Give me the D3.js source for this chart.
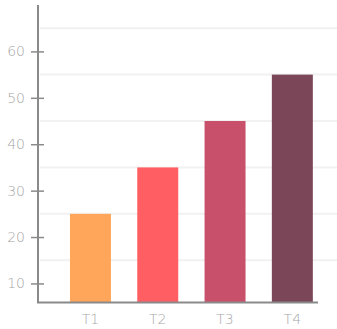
<!DOCTYPE html>
<html><head><meta charset="utf-8">
<script src="https://cdn.jsdelivr.net/npm/d3@7"></script>
<style>body{margin:0;background:#fff}svg{display:block}text{font-family:"DejaVu Sans",sans-serif;font-weight:200}</style>
</head><body><svg id="c" width="337" height="329"></svg>
<script>
const categories = ["T1","T2","T3","T4"];
const values = [25,35,45,55];
const colors = ["#FFA65A","#FF5F62","#C9506A","#7A4658"];
const tickValues = [10,20,30,40,50,60];
const gridValues = [15,25,35,45,55,65];

const svg = d3.select("#c");
const y = d3.scaleLinear().domain([6,70]).range([302,5]);
const x = d3.scaleBand().domain(categories).range([38,344.8]).paddingInner(0.391).paddingOuter(0.475);

svg.append("g").selectAll("line").data(gridValues).join("line")
  .attr("x1",40).attr("x2",337).attr("y1",d=>y(d)).attr("y2",d=>y(d))
  .attr("stroke","#f1f1f1").attr("stroke-width",2);

svg.append("g").selectAll("rect").data(values).join("rect")
  .attr("x",(d,i)=>x(categories[i])).attr("width",x.bandwidth())
  .attr("y",d=>y(d)).attr("height",d=>y(6)-y(d))
  .attr("fill",(d,i)=>colors[i]);

const ya = svg.append("g").attr("transform","translate(38,0)")
  .call(d3.axisLeft(y).tickValues(tickValues).tickSize(7).tickPadding(6));
ya.select(".domain").remove();
ya.selectAll(".tick line").attr("x2",6).attr("x1",-7).attr("stroke","#8a8a8a").attr("stroke-width",1.5);
ya.selectAll(".tick text").attr("fill","#a6a6a6").attr("font-size",14).attr("x",-13);

svg.append("line").attr("x1",38).attr("x2",38).attr("y1",5).attr("y2",303)
  .attr("stroke","#8a8a8a").attr("stroke-width",2);
svg.append("line").attr("x1",37).attr("x2",318).attr("y1",302.5).attr("y2",302.5)
  .attr("stroke","#8a8a8a").attr("stroke-width",2);

const xa = svg.append("g").attr("transform","translate(0,302)")
  .call(d3.axisBottom(x).tickSize(0).tickPadding(12));
xa.select(".domain").remove();
xa.selectAll(".tick text").attr("fill","#a6a6a6").attr("font-size",14);
</script></body></html>
